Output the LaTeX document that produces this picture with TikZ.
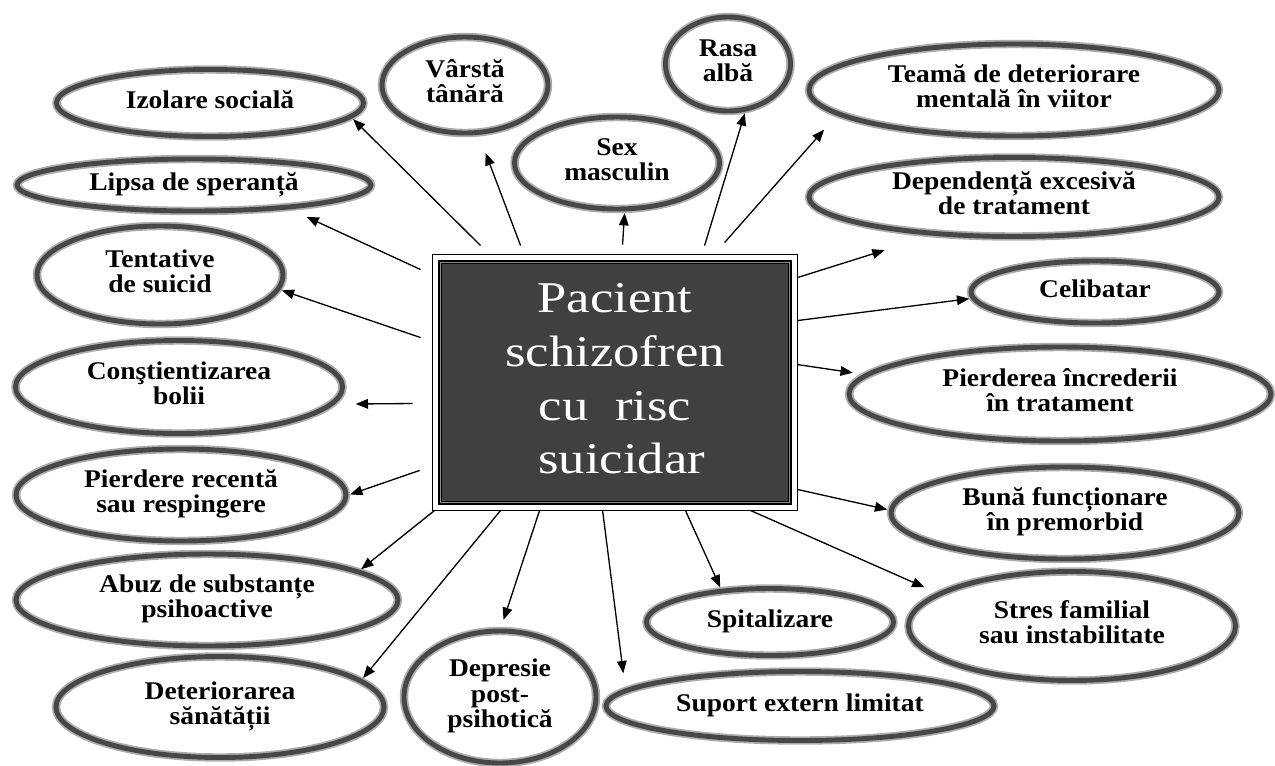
\documentclass[tikz,border=0pt]{standalone}
\usepackage{fontspec}
\setmainfont{Liberation Serif}
\usetikzlibrary{shapes.geometric, arrows.meta}

% text set a bit wider than the font, as in the scanned figure
\newcommand{\stretched}[2]{\scalebox{#1}[1]{\begin{tabular}{@{}c@{}}#2\end{tabular}}}

\begin{document}
\begin{tikzpicture}[
        x=0.02cm, y=-0.02cm,
        bubble/.style={ellipse, draw=black!72, line width=2.8pt, preaction={draw=black!32, line width=4.8pt}, inner sep=0pt, font=\fontsize{14.5}{14.5}\selectfont\bfseries},
        dims/.style 2 args={minimum width=#1*0.02cm, minimum height=#2*0.02cm},
        centerbox/.style={rectangle, draw=black, line width=2.8pt, fill=black!75, text=white, inner sep=0pt, minimum width=7cm, minimum height=4.82cm, font=\fontsize{25}{30.5}\selectfont},
        arr/.style={-{Triangle[length=7pt, width=5.5pt]}, line width=0.75pt, shorten >=1pt}
    ]
    \useasboundingbox (0,0) rectangle (1275,765);

    % Factors (left column)
    \node[bubble, dims={307}{67}] (iz) at (210,103) {\stretched{1.08}{Izolare socială}};
    \node[bubble, dims={354}{52}] (lipsa) at (194,185) {\stretched{1.08}{Lipsa de speranță}};
    \node[bubble, dims={246}{98}] (tent) at (160,275) {\stretched{1.08}{Tentative\\de suicid}};
    \node[bubble, dims={327}{93}] (constient) at (179,387) {\stretched{1.08}{Conştientizarea\\bolii}};
    \node[bubble, dims={330}{92}] (recent) at (181,495) {\stretched{1.08}{Pierdere recentă\\sau respingere}};
    \node[bubble, dims={382}{92}] (abuz) at (207,600) {\stretched{1.08}{Abuz de substanțe\\psihoactive}};
    \node[bubble, dims={328}{101}] (deter) at (220,707) {\stretched{1.08}{Deteriorarea\\sănătății}};

    % Factors (top)
    \node[bubble, dims={166}{96}] (varsta) at (465,85) {\stretched{1.08}{Vârstă\\tânără}};
    \node[bubble, dims={125}{94}] (rasa) at (728,64) {\stretched{1.08}{Rasa\\albă}};
    \node[bubble, dims={205}{92}] (sex) at (617,163) {\stretched{1.08}{Sex\\masculin}};

    % Factors (right column)
    \node[bubble, dims={410}{92}] (teama) at (1014,90) {\stretched{1.08}{Teamă de deteriorare\\mentală în viitor}};
    \node[bubble, dims={410}{79}] (dep) at (1014,197) {\stretched{1.08}{Dependență excesivă\\de tratament}};
    \node[bubble, dims={248}{62}] (celib) at (1095,292) {\stretched{1.08}{Celibatar}};
    \node[bubble, dims={422}{94}] (pierd) at (1060,394) {\stretched{1.08}{Pierderea încrederii\\în tratament}};
    \node[bubble, dims={348}{92}] (buna) at (1065,513) {\stretched{1.08}{Bună funcționare\\în premorbid}};
    \node[bubble, dims={327}{109}] (stres) at (1072,626) {\stretched{1.08}{Stres familial\\sau instabilitate}};

    % Factors (bottom)
    \node[bubble, dims={192}{132}] (depr) at (500,697) {\stretched{1.08}{Depresie\\post-\\psihotică}};
    \node[bubble, dims={247}{67}] (spit) at (770,622) {\stretched{1.08}{Spitalizare}};
    \node[bubble, dims={388}{69}] (suport) at (800,706) {\stretched{1.08}{Suport extern limitat}};

    % Central box with its frame
    \node[centerbox] (box) at (615,382.5) {\stretched{1.2}{Pacient\\schizofren\\cu\ \ risc\\\ suicidar}};
    \draw[black, line width=0.6pt] ([shift={(-5,5)}]box.south west) rectangle ([shift={(5,-5)}]box.north east);
    \draw[black!45, line width=0.5pt] ([shift={(3,-3)}]box.south west) rectangle ([shift={(-3,3)}]box.north east);

    % Arrows, top
    \draw[arr] ([shift={(43,-14)}]box.north west) -- (iz.-6);
    \draw[arr] ([shift={(83,-14)}]box.north west) -- ([shift={(20,16)}]varsta.south);
    \draw[arr] ([shift={(185,-15)}]box.north west) -- (sex.-81);
    \draw[arr] ([shift={(267,-14)}]box.north west) -- (rasa.-70);
    \draw[arr] ([shift={(287,-17)}]box.north west) -- ([shift={(-42,4)}]teama.south west);

    % Arrows, right
    \draw[arr] ([shift={(5,18)}]box.north east) -- ([shift={(19,23)}]dep.south west);
    \draw[arr] ([shift={(5,61)}]box.north east) -- (celib.183);
    \draw[arr] ([shift={(5,105)}]box.north east) -- ([shift={(8,-21)}]pierd.west);
    \draw[arr] ([shift={(5,-16)}]box.south east) -- (buna.179);

    % Arrows, bottom
    \draw[arr] ([shift={(-42,5)}]box.south east) -- ([shift={(20,-38)}]stres.west);
    \draw[arr] ([shift={(-107,5)}]box.south east) -- (spit.146);
    \draw[arr] ([shift={(165,5)}]box.south west) -- ([shift={(20,-31)}]suport.west);
    \draw[arr] ([shift={(102,5)}]box.south west) -- ([shift={(3,-7)}]depr.north);
    \draw[arr] ([shift={(63,5)}]box.south west) -- (deter.11);
    \draw[arr] ([shift={(-3,5)}]box.south west) -- (abuz.11);

    % Arrows, left
    \draw[arr] ([shift={(-18,-35)}]box.south west) -- (recent.east);
    \draw[arr] ([shift={(-25,21)}]box.west) -- ([shift={(9,17)}]constient.east);
    \draw[arr] ([shift={(-17,78)}]box.north west) -- (tent.-7);
    \draw[arr] ([shift={(-17,10)}]box.north west) -- ([shift={(-16,11)}]lipsa.south east);
\end{tikzpicture}
\end{document}
